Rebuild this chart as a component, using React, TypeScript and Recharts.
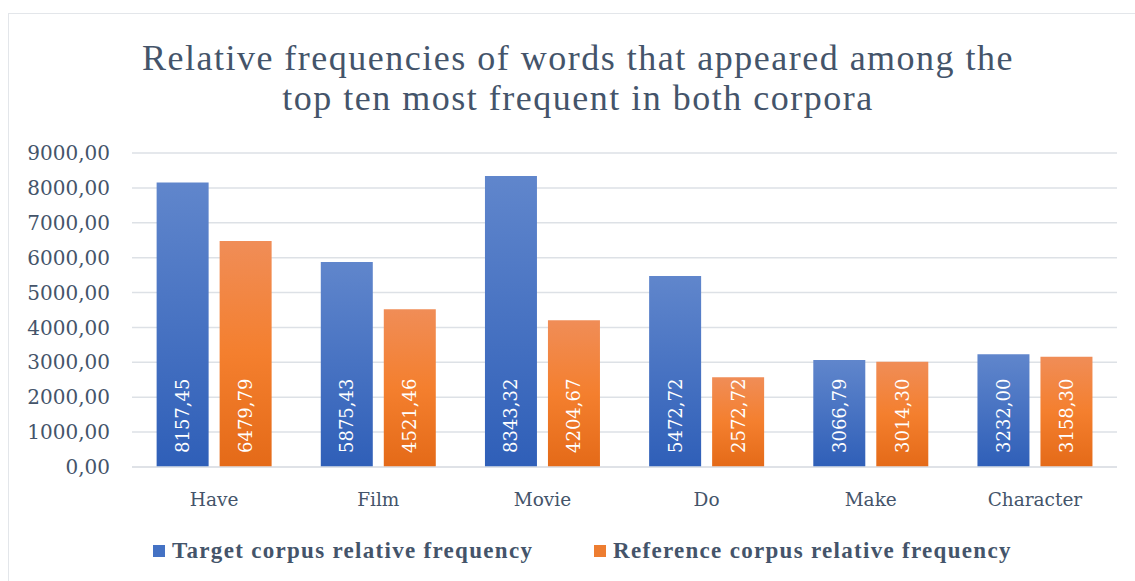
import { BarChart, Bar, XAxis, YAxis, CartesianGrid, Legend, LabelList } from "recharts"

const categories = ["Have", "Film", "Movie", "Do", "Make", "Character"]
const targetFreq = [8157.45, 5875.43, 8343.32, 5472.72, 3066.79, 3232.0]
const referenceFreq = [6479.79, 4521.46, 4204.67, 2572.72, 3014.3, 3158.3]
const yTicks = [0, 1000, 2000, 3000, 4000, 5000, 6000, 7000, 8000, 9000]

const data = categories.map((name, i) => ({
  name,
  target: targetFreq[i],
  reference: referenceFreq[i],
}))

const textColor = "#44546A"
const serif = "'Liberation Serif', 'DejaVu Serif', serif"
const wideSerif = "'DejaVu Serif', serif"

const fmt = (v: number) => v.toFixed(2).replace(".", ",")

// value written bottom-up inside each bar
function BarValue(props: any) {
  const { x, y, width, height, value } = props
  const cx = Number(x) + Number(width) / 2
  const by = Number(y) + Number(height) - 14
  return (
    <text
      x={cx}
      y={by}
      transform={`rotate(-90, ${cx}, ${by})`}
      fill="#fff"
      fontSize={18}
      fontFamily={wideSerif}
      textAnchor="start"
      dominantBaseline="central"
    >
      {fmt(Number(value))}
    </text>
  )
}

function LegendContent() {
  const items = [
    { label: "Target corpus relative frequency", color: "#4472C4", w: 441 },
    { label: "Reference corpus relative frequency", color: "#ED7D31", w: 460 },
  ]
  return (
    <div style={{ display: "flex", paddingLeft: 144, alignItems: "center", height: 30 }}>
      {items.map((it) => (
        <div key={it.label} style={{ display: "flex", alignItems: "center", width: it.w }}>
          <span style={{ width: 12, height: 12, background: it.color, marginRight: 7, display: "inline-block" }} />
          <span
            style={{
              fontFamily: serif,
              fontWeight: "bold",
              fontSize: 23,
              letterSpacing: 1.3,
              color: textColor,
              whiteSpace: "nowrap",
            }}
          >
            {it.label}
          </span>
        </div>
      ))}
    </div>
  )
}

export default function App() {
  return (
    <div
      style={{
        position: "fixed",
        left: 8,
        top: 13,
        width: 1127,
        height: 568,
        borderLeft: "1px solid #E3E6EA",
        borderTop: "1px solid #E3E6EA",
        background: "#fff",
      }}
    >
      <div
        style={{
          position: "absolute",
          top: 24,
          left: 0,
          width: 1138,
          textAlign: "center",
          fontFamily: serif,
          fontSize: 36,
          letterSpacing: 1.5,
          lineHeight: "40px",
          color: textColor,
        }}
      >
        Relative frequencies of words that appeared among the
        <br />
        top ten most frequent in both corpora
      </div>
      <BarChart
        width={1126}
        height={568}
        data={data}
        margin={{ top: 139, right: 18, left: 0, bottom: 35 }}
        barCategoryGap="15%"
        barGap={11}
      >
        <defs>
          <linearGradient id="blueGrad" x1="0" y1="0" x2="0" y2="1">
            <stop offset="0%" stopColor="#6086CC" />
            <stop offset="100%" stopColor="#2F5FB8" />
          </linearGradient>
          <linearGradient id="orangeGrad" x1="0" y1="0" x2="0" y2="1">
            <stop offset="0%" stopColor="#F08D57" />
            <stop offset="50%" stopColor="#F47F2E" />
            <stop offset="100%" stopColor="#E46A18" />
          </linearGradient>
        </defs>
        <CartesianGrid vertical={false} stroke="#DDE1E6" strokeWidth={1.5} />
        <XAxis
          dataKey="name"
          axisLine={{ stroke: "#DDE1E6", strokeWidth: 1.5 }}
          tickLine={false}
          tickSize={0}
          tickMargin={26}
          height={50}
          tick={{ fill: textColor, fontSize: 18.5, fontFamily: wideSerif }}
        />
        <YAxis
          domain={[0, 9000]}
          ticks={yTicks}
          interval={0}
          axisLine={false}
          tickLine={false}
          tickSize={0}
          tickMargin={22}
          width={123}
          tickFormatter={(v: number) => fmt(v)}
          tick={{ fill: textColor, fontSize: 20, fontFamily: wideSerif }}
        />
        <Legend
          content={<LegendContent />}
          wrapperStyle={{ top: 522, left: 0, width: 1126, height: 30 }}
        />
        <Bar dataKey="target" name="Target corpus relative frequency" fill="url(#blueGrad)" isAnimationActive={false}>
          <LabelList dataKey="target" content={<BarValue />} />
        </Bar>
        <Bar dataKey="reference" name="Reference corpus relative frequency" fill="url(#orangeGrad)" isAnimationActive={false}>
          <LabelList dataKey="reference" content={<BarValue />} />
        </Bar>
      </BarChart>
    </div>
  )
}
